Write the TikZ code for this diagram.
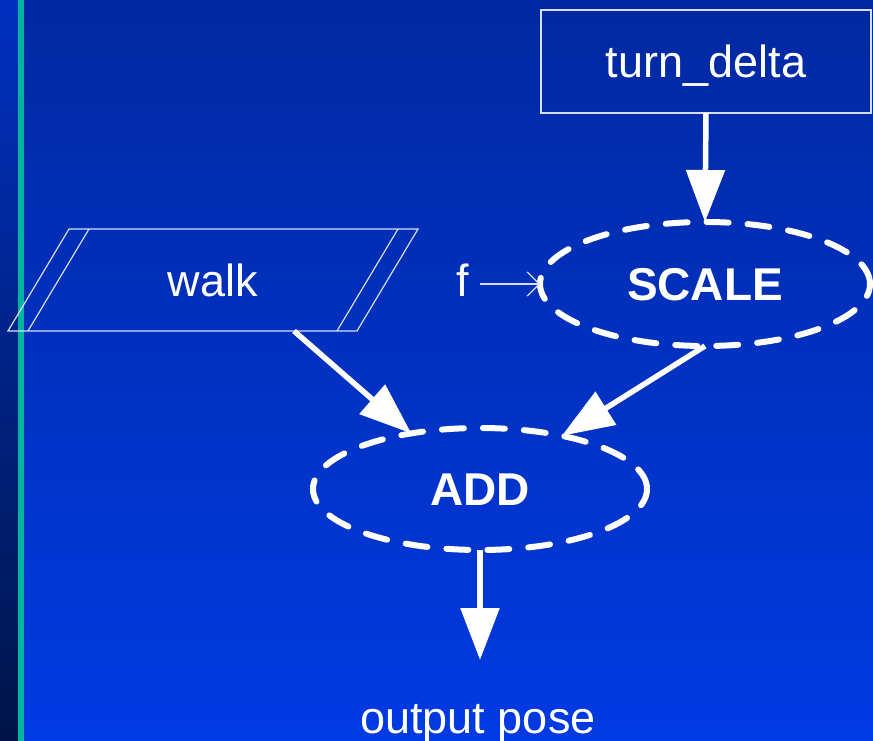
\documentclass[tikz,border=0pt]{standalone}
\usepackage{fontspec}
\setmainfont{Liberation Sans}
\usetikzlibrary{shapes.geometric,arrows.meta,calc}
\definecolor{bgtop}{RGB}{0,40,160}
\definecolor{bgbot}{RGB}{0,58,226}
\definecolor{striptop}{RGB}{0,48,192}
\definecolor{stripbot}{RGB}{0,20,72}
\definecolor{tealline}{RGB}{0,180,160}
\definecolor{thinline}{RGB}{215,222,245}
\begin{document}
\begin{tikzpicture}[x=1pt,y=-1pt,
  lbl/.style={text=white,font=\fontsize{45}{52}\selectfont,text height=32pt,text depth=0pt,inner sep=0pt,outer sep=0pt},
  boldlbl/.style={font=\fontsize{46}{52}\selectfont\bfseries},
  dashell/.style={ellipse,draw=white,line width=6pt,dash pattern=on 22pt off 19pt,line cap=round},
  flow/.style={draw=white,line width=5.5pt,-{Triangle[length=52pt,width=38pt]}},
  thinln/.style={draw=thinline,line width=1.2pt}]
\useasboundingbox (0,0) rectangle (873,741);
\shade[top color=bgtop,bottom color=bgbot] (0,0) rectangle (873,741);
\shade[top color=striptop,bottom color=stripbot] (0,0) rectangle (18,741);
\fill[tealline] (18,0) rectangle (24,741);

% nodes
\node[lbl,draw=thinline,line width=1.2pt,minimum width=330pt,minimum height=103pt] (turn) at (706,61.5) {turn\_delta};
\node[lbl,dashell,boldlbl,minimum width=330pt,minimum height=124pt] (scale) at (705,284) {SCALE};
\node[lbl,dashell,boldlbl,minimum width=334pt,minimum height=122pt] (add) at (480,489) {ADD};
\node[lbl,minimum width=349pt,minimum height=102pt] (walk) at (213,280) {walk};
\node[lbl] (f) at (463,280) {f};
\node[lbl] (out) at (478,717) {output pose};

% walk parallelogram
\draw[thinln] (69,229) -- (418,229) -- (357,331) -- (8,331) -- cycle;
\draw[thinln] (89,229) -- (28,331);
\draw[thinln] (398,229) -- (337,331);

% connectors
\coordinate (walkout) at (294,331);
\coordinate (outtip) at (480,660);
\draw[flow] (turn.south) -- (scale.north);
\draw[thinln,-{Straight Barb[length=12pt,width=24pt]},shorten <=11pt] (f.east |- scale.west) -- (scale.west);
\draw[flow] (walkout) -- (add.141);
\draw[flow] (scale.south) -- (add.33);
\draw[flow] (add.south) -- (outtip);
\end{tikzpicture}
\end{document}
